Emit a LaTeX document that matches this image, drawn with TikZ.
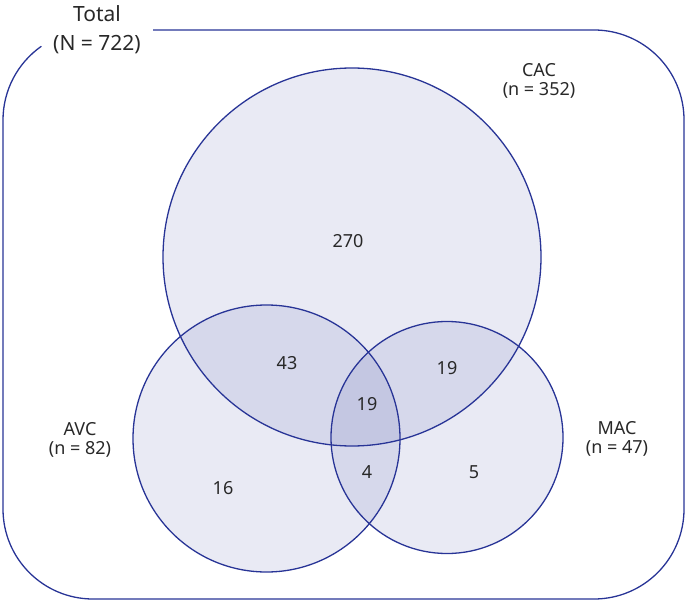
\documentclass[tikz,border=0pt]{standalone}
\usepackage{fontspec}
\setmainfont{Noto Sans}
\usepackage{tikz}
\definecolor{vennblue}{RGB}{40,52,150}
\definecolor{venntext}{RGB}{40,40,40}

\begin{document}
\begin{tikzpicture}
    [line join=round,x={(1pt,0pt)},y={(0pt,1pt)},
     setfill/.style={fill=vennblue,fill opacity=0.1},
     rim/.style={draw=vennblue,line width=1.3pt},
     count/.style={text=venntext,inner sep=0pt,font=\fontsize{18}{20}\selectfont},
     setlabel/.style={text=venntext,inner sep=0pt,align=center,font=\fontsize{18}{19}\selectfont}]

    \useasboundingbox (0,0) rectangle (687,603);

    \coordinate (CAC) at (352.0, 346.0);
    \coordinate (AVC) at (266.5, 164.5);
    \coordinate (MAC) at (447.0, 165.5);

    \fill[setfill] (CAC) circle[radius=189];
    \fill[setfill] (AVC) circle[radius=133.5];
    \fill[setfill] (MAC) circle[radius=116];

    \draw[rim] (CAC) circle[radius=189];
    \draw[rim] (AVC) circle[radius=133.5];
    \draw[rim] (MAC) circle[radius=116];

    % total frame, open behind the label
    \draw[rim] (153,573) -- (594,573) arc[start angle=90,end angle=0,radius=90]
      -- (684,94) arc[start angle=0,end angle=-90,radius=90]
      -- (93,4) arc[start angle=270,end angle=180,radius=90]
      -- (3,483) arc[start angle=180,end angle=125,radius=90];

    \node[setlabel,font=\fontsize{21}{29}\selectfont] (total) at (97,573.5) {Total\\(N = 722)};
    \node[setlabel] (cacname) at (539,522) {CAC\\(n = 352)};
    \node[setlabel] (avcname) at (80,163) {AVC\\(n = 82)};
    \node[setlabel] (macname) at (617,164) {MAC\\(n = 47)};

    \node[count] (c) at (348,362) {270};
    \node[count] (ca) at (287,240) {43};
    \node[count] (cm) at (447,235) {19};
    \node[count] (cam) at (367,199) {19};
    \node[count] (am) at (367,131) {4};
    \node[count] (a) at (223,115) {16};
    \node[count] (m) at (474,131) {5};
\end{tikzpicture}
\end{document}
